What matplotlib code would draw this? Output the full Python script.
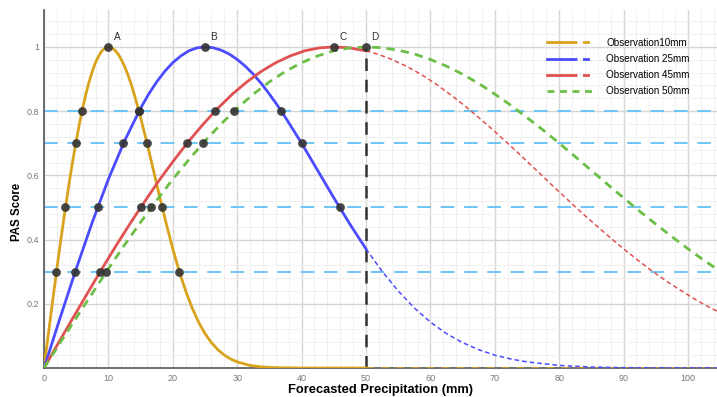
import numpy as np
import matplotlib
matplotlib.use("Agg")
import matplotlib.pyplot as plt
from matplotlib.lines import Line2D
from matplotlib.legend_handler import HandlerTuple
from matplotlib.ticker import MultipleLocator

plt.rcParams['font.family'] = ['Liberation Sans', 'DejaVu Sans']

# --[Curve values]-------------------------------------------------------------
# Observation 10mm
obs10_x = [0, 0.5, 1, 1.5, 2, 2.5, 3, 3.5, 4, 4.5, 5, 5.5, 6, 6.5, 7, 7.5, 8, 8.5, 9, 9.5,
           10, 10.5, 11, 11.5, 12, 12.5, 13, 13.5, 14, 14.5, 15, 16, 17, 18, 19, 20,
           21, 22, 23, 24, 25, 26, 27, 28, 29, 30, 32, 34, 36, 40, 50]
obs10_y = [0, 0.0785, 0.156, 0.233, 0.309, 0.383, 0.454, 0.522, 0.588, 0.649, 0.707,
           0.760, 0.809, 0.853, 0.891, 0.924, 0.951, 0.972, 0.988, 0.997, 1.0,
           0.9975, 0.990, 0.978, 0.961, 0.940, 0.915, 0.886, 0.853, 0.818, 0.780,
           0.700, 0.615, 0.530, 0.448, 0.371,
           0.301, 0.240, 0.187, 0.143, 0.107, 0.079, 0.057, 0.040, 0.028, 0.019,
           0.008, 0.003, 0.001, 0.0, 0.0]
obs10_tail_x = [50, 104.5]
obs10_tail_y = [0.0, 0.0]

# Observation 25mm
obs25_x = [0, 2.5, 5, 7.5, 10, 12.5, 15, 16.25, 17.5, 18.75, 20, 21.25, 22.5, 23.75, 25,
           26.25, 27.5, 28.75, 30, 31.25, 32.5, 33.75, 35, 36.25, 37.5, 40, 42.5, 45,
           47.5, 50]
obs25_y = [0, 0.156, 0.309, 0.454, 0.588, 0.707, 0.809, 0.853, 0.891, 0.924, 0.951,
           0.972, 0.988, 0.997, 1.0, 0.9975, 0.990, 0.978, 0.961, 0.940, 0.915, 0.886,
           0.853, 0.818, 0.780, 0.700, 0.615, 0.530, 0.448, 0.371]
obs25_tail_x = [50, 52.5, 55, 57.5, 60, 62.5, 65, 67.5, 70, 72.5, 75, 80, 85, 90, 95, 104.5]
obs25_tail_y = [0.371, 0.301, 0.240, 0.187, 0.143, 0.107, 0.079, 0.057, 0.040, 0.028,
                0.019, 0.008, 0.003, 0.001, 0.0004, 0.0]

# Observation 45mm
obs45_x = [0, 2.25, 4.5, 6.75, 9, 11.25, 13.5, 15.75, 18, 20.25, 22.5, 24.75, 27,
           29.25, 31.5, 33.75, 36, 38.25, 40.5, 42.75, 45, 47.25, 50]
obs45_y = [0, 0.0785, 0.156, 0.233, 0.309, 0.383, 0.454, 0.522, 0.588, 0.649, 0.707,
           0.760, 0.809, 0.853, 0.891, 0.924, 0.951, 0.972, 0.988, 0.997, 1.0, 0.9975, 0.988]
obs45_tail_x = [50, 51.75, 54, 56.25, 58.5, 60.75, 63, 65.25, 67.5, 69.75, 72, 74.25,
                76.5, 78.75, 81, 83.25, 85.5, 87.75, 90, 92.25, 94.5, 96.75, 99,
                101.25, 103.5, 104.5]
obs45_tail_y = [0.988, 0.978, 0.961, 0.940, 0.915, 0.886, 0.853, 0.818, 0.780, 0.741,
                0.700, 0.658, 0.615, 0.572, 0.530, 0.488, 0.448, 0.409, 0.371, 0.335,
                0.301, 0.269, 0.240, 0.212, 0.187, 0.177]

# Observation 50mm
obs50_x = [0, 2.5, 5, 7.5, 10, 12.5, 15, 17.5, 20, 22.5, 25, 27.5, 30, 32.5, 35, 37.5,
           40, 42.5, 45, 47.5, 50, 52.5, 55, 57.5, 60, 62.5, 65, 67.5, 70, 72.5, 75,
           77.5, 80, 82.5, 85, 87.5, 90, 92.5, 95, 97.5, 100, 102.5, 104.5]
obs50_y = [0, 0.0785, 0.156, 0.233, 0.309, 0.383, 0.454, 0.522, 0.588, 0.649, 0.707,
           0.760, 0.809, 0.853, 0.891, 0.924, 0.951, 0.972, 0.988, 0.997, 1.0, 0.9975,
           0.990, 0.978, 0.961, 0.940, 0.915, 0.886, 0.853, 0.818, 0.780, 0.741, 0.700,
           0.658, 0.615, 0.572, 0.530, 0.488, 0.448, 0.409, 0.371, 0.335, 0.308]

# threshold lines and the crossing points
levels = [0.3, 0.5, 0.7, 0.8]
pts_x = [1.94, 3.33, 4.94, 5.90, 14.74, 16.0, 18.36, 21.0,
         4.85, 8.33, 12.34, 14.76, 36.86, 40.0, 45.9,
         8.73, 15.0, 22.2, 26.57,
         9.70, 16.67, 24.68, 29.52,
         10, 25, 45, 50]
pts_y = [0.3, 0.5, 0.7, 0.8, 0.8, 0.7, 0.5, 0.3,
         0.3, 0.5, 0.7, 0.8, 0.8, 0.7, 0.5,
         0.3, 0.5, 0.7, 0.8,
         0.3, 0.5, 0.7, 0.8,
         1, 1, 1, 1]
peak_labels = ['A', 'B', 'C', 'D']
peak_x = [10, 25, 45, 50]

xtick_vals = [0, 10, 20, 30, 40, 50, 60, 70, 80, 90, 100]
ytick_vals = [0.2, 0.4, 0.6, 0.8, 1]
ytick_labels = ['0.2', '0.4', '0.6', '0.8', '1']

c10, c25, c45, c50 = '#d9a21b', '#4b4bff', '#e05252', '#6cbf45'

# --[Plot]---------------------------------------------------------------------
fig = plt.figure(figsize=(7.17, 3.97), dpi=100)
ax = fig.add_axes([44 / 717, 1 - 368 / 397, 1 - 44 / 717, 358 / 397])

ax.set_xlim(0, 104.5)
ax.set_ylim(0, 1.115)
ax.xaxis.set_minor_locator(MultipleLocator(2))
ax.yaxis.set_minor_locator(MultipleLocator(0.04))
ax.grid(which='major', color='#d6d6d6', lw=1)
ax.grid(which='minor', color='#eeeeee', lw=0.6)
ax.set_axisbelow(True)

for lv in levels:
    ax.axhline(lv, color='#6cc4f5', lw=1.4, dashes=(7, 5), zorder=2)
ax.plot([50, 50], [0, 1], color='#333333', lw=1.8, dashes=(5, 3.5), zorder=2)

ax.plot(obs10_x, obs10_y, color=c10, lw=2, zorder=3)
ax.plot(obs10_tail_x, obs10_tail_y, color=c10, lw=1.8, dashes=(3, 3), zorder=3)
ax.plot(obs25_x, obs25_y, color=c25, lw=2, zorder=3)
ax.plot(obs25_tail_x, obs25_tail_y, color=c25, lw=1.1, dashes=(3, 2), zorder=3)
ax.plot(obs45_x, obs45_y, color=c45, lw=2, zorder=3)
ax.plot(obs45_tail_x, obs45_tail_y, color=c45, lw=1.1, dashes=(3, 2), zorder=3)
ax.plot(obs50_x, obs50_y, color=c50, lw=2, dashes=(3, 2.2), zorder=3)

ax.scatter(pts_x, pts_y, s=40, color='#333333', alpha=0.9, zorder=5, linewidths=0)
for lab, px in zip(peak_labels, peak_x):
    ax.annotate(lab, (px, 1), xytext=(4, 5), textcoords='offset points',
                fontsize=7.2, color='#333333')

ax.set_xticks(xtick_vals)
ax.set_yticks(ytick_vals)
ax.set_yticklabels(ytick_labels)
ax.tick_params(which='both', length=0, labelsize=6.5, colors='#777777')
ax.tick_params(axis='x', pad=4)
ax.tick_params(axis='y', pad=3.6)
for s in ['top', 'right']:
    ax.spines[s].set_visible(False)
for s in ['left', 'bottom']:
    ax.spines[s].set_color('#555555')
    ax.spines[s].set_linewidth(1.2)
ax.set_xlabel('Forecasted Precipitation (mm)', fontsize=9.3, fontweight='bold', labelpad=1)
ax.set_ylabel('PAS Score', fontsize=8.3, fontweight='bold')
ax.yaxis.set_label_coords(-21 / 673, 0.436)

# legend: solid + dashed pieces
def pair(c):
    return (Line2D([], [], color=c, lw=2), Line2D([], [], color=c, lw=2, dashes=(2.5, 2)))

handles = [pair(c10), pair(c25), pair(c45), Line2D([], [], color=c50, lw=2, dashes=(2.5, 2))]
labels = ['Observation10mm', 'Observation 25mm', 'Observation 45mm', 'Observation 50mm']
ax.legend(handles, labels, handler_map={tuple: HandlerTuple(ndivide=None, pad=0)},
          loc='upper left', bbox_to_anchor=(538 / 717, 1 - 29 / 397),
          bbox_transform=fig.transFigure, frameon=False, fontsize=7.1,
          handlelength=4.7, labelspacing=0.62, handletextpad=1.3)

fig.savefig('out.png', dpi=100)
